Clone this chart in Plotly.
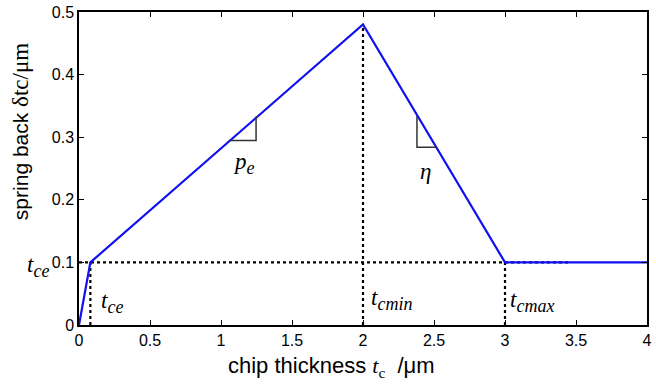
import plotly.graph_objects as go

# data
line_x = [0, 0.08, 2, 3, 4]
line_y = [0, 0.1, 0.48, 0.1, 0.1]
x_ticks = [0, 0.5, 1, 1.5, 2, 2.5, 3, 3.5, 4]
x_tick_text = ["0", "0.5", "1", "1.5", "2", "2.5", "3", "3.5", "4"]
y_ticks = [0, 0.1, 0.2, 0.3, 0.4, 0.5]
y_tick_text = ["0", "0.1", "0.2", "0.3", "0.4", "0.5"]

SERIF = "Times New Roman, Liberation Serif, serif"
SANS = "Arial, Liberation Sans, sans-serif"

fig = go.Figure()

dot = dict(color="black", width=2.2, dash="dot")
# dotted guides
fig.add_trace(go.Scatter(x=[0, 3.45], y=[0.1, 0.1], mode="lines", line=dot, hoverinfo="skip"))
for xv, yv in [(0.08, 0.1), (2, 0.48), (3, 0.1)]:
    fig.add_trace(go.Scatter(x=[xv, xv], y=[0, yv], mode="lines", line=dot, hoverinfo="skip"))

# main curve
fig.add_trace(go.Scatter(x=line_x, y=line_y, mode="lines",
                         line=dict(color="#1010f0", width=2.2)))

# slope triangles
tri = dict(color="#333333", width=1.5)
fig.add_trace(go.Scatter(x=[1.054, 1.247, 1.247], y=[0.2946, 0.2946, 0.333],
                         mode="lines", line=tri, hoverinfo="skip"))
fig.add_trace(go.Scatter(x=[2.38, 2.38, 2.519], y=[0.334, 0.284, 0.284],
                         mode="lines", line=tri, hoverinfo="skip"))

def sub(t, s):
    return "<i>%s<sub><span style='font-size:18px'>%s</span></sub></i>" % (t, s)

def ann(x, y, text, xanchor="center", xref="x", yref="y"):
    fig.add_annotation(x=x, y=y, xref=xref, yref=yref, text=text, showarrow=False,
                       xanchor=xanchor, yanchor="middle",
                       font=dict(family=SERIF, size=23, color="black"))

ann(1.16, 0.258, sub("p", "e"))
ann(2.44, 0.245, "<i>η</i>")
ann(0.14, 0.036, sub("t", "ce"), xanchor="left")
ann(2.04, 0.04, sub("t", "cmin"), xanchor="left")
ann(3.02, 0.038, sub("t", "cmax"), xanchor="left")
ann(-0.072, 0.186, sub("t", "ce"), xref="paper", yref="paper")

# axis titles as annotations
fig.add_annotation(x=(334 - 79) / 573, y=(325 - 367) / 314, xref="paper", yref="paper",
                   text="chip thickness <span style='font-family:Times New Roman'><i>t</i><sub>c</sub></span>  /μm",
                   showarrow=False, xanchor="center", yanchor="middle",
                   font=dict(family=SANS, size=22, color="black"))
fig.add_annotation(x=(20 - 79) / 573, y=(325 - 131) / 314, xref="paper", yref="paper",
                   text="spring back <span style='font-family:Times New Roman;font-size:23px'>δtc/μm</span>",
                   textangle=-90, showarrow=False, xanchor="center", yanchor="middle",
                   font=dict(family=SANS, size=21, color="black"))

axis_common = dict(showline=True, linecolor="black", linewidth=1.5, mirror="ticks",
                   ticks="inside", ticklen=5, tickcolor="black", showgrid=False,
                   zeroline=False, tickfont=dict(family=SANS, size=16, color="black"))

fig.update_xaxes(range=[0, 4], tickvals=x_ticks, ticktext=x_tick_text, **axis_common)
fig.update_yaxes(range=[0, 0.5], tickvals=y_ticks, ticktext=y_tick_text, **axis_common)

fig.update_layout(width=656, height=389, margin=dict(l=79, r=4, t=11, b=64),
                  plot_bgcolor="white", paper_bgcolor="white", showlegend=False)

fig.write_html("out.html")
